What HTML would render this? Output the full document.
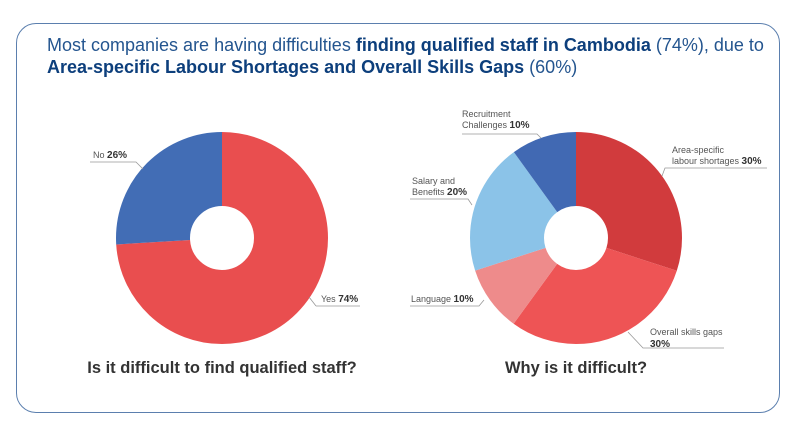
<!DOCTYPE html>
<html><head><meta charset="utf-8"><style>
body{margin:0;width:803px;height:427px;background:#fff;overflow:hidden;font-family:"Liberation Sans",sans-serif}
.box{position:absolute;left:16px;top:23px;width:762px;height:388px;border:1.3px solid #5b7fae;border-radius:20px}
.t{position:absolute;left:47px;top:34px;font-size:18px;line-height:22px;color:#24558f;letter-spacing:0px}
.t b{color:#0d3f7c}
</style></head><body>
<div class="box"></div>
<div class="t">Most companies are having difficulties <b>finding qualified staff in Cambodia</b> (74%), due to<br><b>Area-specific Labour Shortages and Overall Skills Gaps</b> (60%)</div>
<svg width="803" height="427" style="position:absolute;left:0;top:0" font-family="Liberation Sans, sans-serif">
<g transform="rotate(-90 222 238)" fill="none" stroke-width="74">
<circle cx="222" cy="238" r="69" stroke="#e94e4f" stroke-dasharray="320.8 1000"/>
<circle cx="222" cy="238" r="69" stroke="#426db5" stroke-dasharray="0 320.8 112.7 1000"/>
</g>
<g transform="rotate(-90 576 238)" fill="none" stroke-width="74">
<circle cx="576" cy="238" r="69" stroke="#d13b3d" stroke-dasharray="130.05 1000"/>
<circle cx="576" cy="238" r="69" stroke="#ee5455" stroke-dasharray="0 130.05 130.05 1000"/>
<circle cx="576" cy="238" r="69" stroke="#ee8b8b" stroke-dasharray="0 260.1 43.35 1000"/>
<circle cx="576" cy="238" r="69" stroke="#8bc3e8" stroke-dasharray="0 303.45 86.7 1000"/>
<circle cx="576" cy="238" r="69" stroke="#4169b3" stroke-dasharray="0 390.15 43.35 1000"/>
</g>
<g stroke="#999" stroke-width="0.8" fill="none">
<polyline points="90,162 136,162 143,169"/>
<polyline points="316,306 360,306"/><line x1="309" y1="297" x2="316" y2="306"/>
<polyline points="767,168 665,168 662,176"/>
<polyline points="628,332 643,348 724,348"/>
<polyline points="410,306 479,306 484,300"/>
<polyline points="410,199 468,199 472,205"/>
<polyline points="462,134 537,134 541,138"/>
</g>
<g font-size="9" fill="#555">
<text x="93" y="158">No <tspan font-weight="bold" font-size="10" fill="#333">26%</tspan></text>
<text x="321" y="302">Yes <tspan font-weight="bold" font-size="10" fill="#333">74%</tspan></text>
<text x="672" y="153">Area-specific</text>
<text x="672" y="164">labour shortages <tspan font-weight="bold" font-size="10" fill="#333">30%</tspan></text>
<text x="650" y="335">Overall skills gaps</text>
<text x="650" y="347" font-weight="bold" font-size="10" fill="#333">30%</text>
<text x="411" y="302">Language <tspan font-weight="bold" font-size="10" fill="#333">10%</tspan></text>
<text x="412" y="184">Salary and</text>
<text x="412" y="195">Benefits <tspan font-weight="bold" font-size="10" fill="#333">20%</tspan></text>
<text x="462" y="117">Recruitment</text>
<text x="462" y="128">Challenges <tspan font-weight="bold" font-size="10" fill="#333">10%</tspan></text>
</g>
<g font-size="16.5" font-weight="bold" fill="#333" text-anchor="middle">
<text x="222" y="373">Is it difficult to find qualified staff?</text>
<text x="576" y="373">Why is it difficult?</text>
</g>
</svg>
</body></html>
